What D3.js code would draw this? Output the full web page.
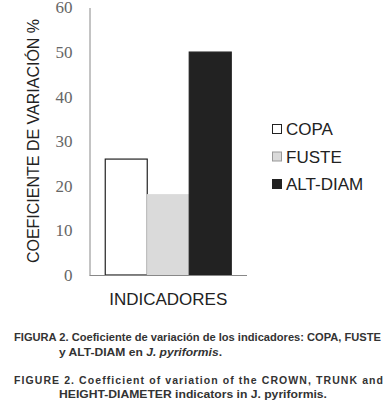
<!DOCTYPE html>
<html>
<head>
<meta charset="utf-8">
<script src="https://cdn.jsdelivr.net/npm/d3@7"></script>
<style>
  body { margin: 0; background: #fff; }
  svg { display: block; }
</style>
</head>
<body>
<svg id="chart" width="391" height="404"></svg>
<script>
var categories = ["INDICADORES"];
var series = ["COPA", "FUSTE", "ALT-DIAM"];
var values = [26, 18, 50];
var yTicks = [0, 10, 20, 30, 40, 50, 60];
var fills = ["#ffffff", "#dadada", "#222222"];
var strokes = ["#222222", "#dadada", "#222222"];

var svg = d3.select("#chart");

var x0 = d3.scaleBand().domain(categories).range([89.5, 247]).paddingInner(0).paddingOuter(0.125);
var x1 = d3.scaleBand().domain(series).range([0, x0.bandwidth()]);
var y = d3.scaleLinear().domain([0, 60]).range([275, 7.5]);

// bars
svg.append("g").selectAll("rect")
    .data(series)
    .enter().append("rect")
    .attr("x", function(d) { return x0(categories[0]) + x1(d); })
    .attr("y", function(d, i) { return y(values[i]); })
    .attr("width", x1.bandwidth())
    .attr("height", function(d, i) { return y(0) - y(values[i]); })
    .style("fill", function(d, i) { return fills[i]; })
    .style("stroke", function(d, i) { return strokes[i]; })
    .style("stroke-width", 1.2);

// y axis
var yAxis = svg.append("g")
    .attr("transform", "translate(89.5,0)")
    .call(d3.axisLeft(y).tickValues(yTicks).tickSize(0).tickPadding(17));
yAxis.select(".domain").style("stroke", "#888");
yAxis.selectAll("text")
    .style("font-family", "'Liberation Serif', serif")
    .style("font-size", "17px")
    .style("fill", "#666");

// x axis
var xAxis = svg.append("g")
    .attr("transform", "translate(0,275)")
    .call(d3.axisBottom(x0).tickSize(0).tickSizeOuter(0).tickPadding(18));
xAxis.select(".domain").attr("d", "M89.5,0.5H247").style("stroke", "#888");
xAxis.selectAll("text")
    .style("font-family", "'Liberation Sans', Arial, sans-serif")
    .style("font-size", "17px")
    .style("fill", "#222");

// y title
svg.append("text")
    .attr("transform", "translate(39,141) rotate(-90)")
    .style("text-anchor", "middle")
    .style("font-family", "'Liberation Sans', Arial, sans-serif")
    .style("font-size", "16px")
    .style("fill", "#222")
    .text("COEFICIENTE DE VARIACIÓN %");

// legend
var legend = svg.append("g").selectAll("g")
    .data(series)
    .enter().append("g")
    .attr("transform", function(d, i) { return "translate(272," + (129 + i * 27.5) + ")"; });
legend.append("rect")
    .attr("x", 0.5).attr("y", -4.5)
    .attr("width", 9).attr("height", 9)
    .style("fill", function(d, i) { return fills[i]; })
    .style("stroke", function(d, i) { return i == 1 ? "#999" : "#222"; });
legend.append("text")
    .attr("x", 14)
    .attr("y", 6)
    .style("font-family", "'Liberation Sans', Arial, sans-serif")
    .style("font-size", "17px")
    .style("fill", "#222")
    .text(function(d) { return d; });

// caption
var cap = svg.append("g")
    .style("font-family", "'Liberation Sans', Arial, sans-serif")
    .style("font-size", "10.5px")
    .style("font-weight", "bold")
    .style("fill", "#333");

cap.append("text").attr("x", 14).attr("y", 341)
    .attr("textLength", 367).attr("lengthAdjust", "spacingAndGlyphs")
    .text("FIGURA 2. Coeficiente de variación de los indicadores: COPA, FUSTE");
var l2 = cap.append("text").attr("x", 59).attr("y", 356)
    .attr("textLength", 163).attr("lengthAdjust", "spacingAndGlyphs");
l2.append("tspan").text("y ALT-DIAM en ");
l2.append("tspan").style("font-style", "italic").text("J. pyriformis");
l2.append("tspan").text(".");
cap.append("text").attr("x", 14).attr("y", 384)
    .attr("textLength", 369).attr("lengthAdjust", "spacing")
    .text("FIGURE 2. Coefficient of variation of the CROWN, TRUNK and");
cap.append("text").attr("x", 59).attr("y", 398)
    .attr("textLength", 268).attr("lengthAdjust", "spacingAndGlyphs")
    .text("HEIGHT-DIAMETER indicators in J. pyriformis.");
</script>
</body>
</html>
